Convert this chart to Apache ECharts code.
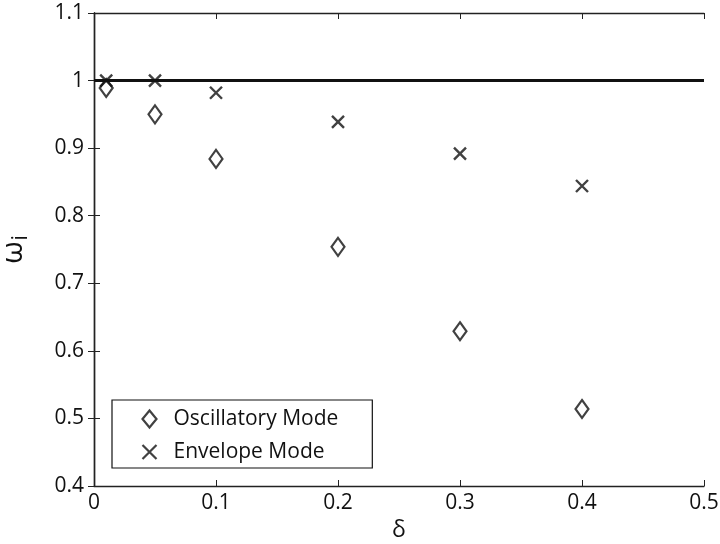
<!DOCTYPE html>
<html><head><meta charset="utf-8">
<script src="https://cdn.jsdelivr.net/npm/echarts@6/dist/echarts.min.js"></script>
<style>html,body{margin:0;padding:0;background:#fff}#c{width:720px;height:544px}</style>
</head><body><div id="c"></div>
<script>
const deltas = [0.01, 0.05, 0.1, 0.2, 0.3, 0.4];
const oscillatory = [0.989, 0.950, 0.884, 0.754, 0.629, 0.514];
const envelope = [1.0, 1.0, 0.982, 0.939, 0.892, 0.844];
const referenceLevel = 1;
const xTicks = [0, 0.1, 0.2, 0.3, 0.4, 0.5];
const yTicks = [0.4, 0.5, 0.6, 0.7, 0.8, 0.9, 1, 1.1];

const FONT = '"Open Sans", "DejaVu Sans", sans-serif';
const crossPath = 'path://M0 0L10 10M10 0L0 10';
const axisCommon = {
  axisLine: {show: true, lineStyle: {color: '#222', width: 1.4}},
  axisTick: {show: true, inside: true, length: 6, lineStyle: {color: '#222', width: 1}},
  splitLine: {show: false}
};
const fmt = v => String(Math.round(v * 10) / 10);
const chart = echarts.init(document.getElementById('c'), null, {renderer: 'canvas'});
chart.setOption({
  animation: false,
  backgroundColor: '#fff',
  grid: {left: 94, right: 16, top: 13, bottom: 58, containLabel: false, outerBoundsMode: 'none'},
  legend: {
    orient: 'vertical', left: 112, top: 400,
    backgroundColor: '#fff', borderColor: '#111', borderWidth: 1.2,
    padding: [8, 34, 5, 28], itemGap: 11, itemWidth: 14, itemHeight: 17,
    textStyle: {fontFamily: FONT, fontSize: 21, lineHeight: 22, color: '#111', padding: [0, 0, 0, 12]},
    data: [
      {name: 'Oscillatory Mode', icon: 'diamond', itemStyle: {color: '#fff', borderColor: '#111', borderWidth: 2.2}},
      {name: 'Envelope Mode', icon: crossPath, itemStyle: {color: 'none', borderColor: '#111', borderWidth: 2.2}}
    ]
  },
  xAxis: [
    Object.assign({type: 'value', min: xTicks[0], max: xTicks[xTicks.length - 1], interval: 0.1, position: 'bottom',
      name: 'δ', nameLocation: 'middle', nameGap: 27,
      nameTextStyle: {fontFamily: FONT, fontSize: 23, color: '#111'},
      axisLabel: {fontFamily: FONT, fontSize: 21, color: '#111', margin: 7, formatter: fmt}}, axisCommon),
    Object.assign({type: 'value', min: xTicks[0], max: xTicks[xTicks.length - 1], interval: 0.1, position: 'top',
      axisLabel: {show: false}}, axisCommon)
  ],
  yAxis: [
    Object.assign({type: 'value', min: yTicks[0], max: yTicks[yTicks.length - 1], interval: 0.1, position: 'left',
      name: 'ω{s|i}', nameLocation: 'middle', nameGap: 62, nameRotate: 90,
      nameTextStyle: {fontFamily: FONT, fontSize: 29, color: '#111',
        rich: {s: {fontFamily: FONT, fontSize: 21, color: '#111', verticalAlign: 'bottom', padding: [16, 0, 0, 1]}}},
      axisLabel: {fontFamily: FONT, fontSize: 21, color: '#111', margin: 10, formatter: fmt}}, axisCommon),
    Object.assign({type: 'value', min: yTicks[0], max: yTicks[yTicks.length - 1], interval: 0.1, position: 'right',
      axisLabel: {show: false}}, axisCommon)
  ],
  series: [
    {
      name: 'Oscillatory Mode', type: 'scatter', xAxisIndex: 0, yAxisIndex: 0,
      symbol: 'diamond', symbolSize: [13, 18],
      itemStyle: {color: '#fff', borderColor: '#111', borderWidth: 2.2},
      data: deltas.map((d, i) => [d, oscillatory[i]]),
      markLine: {
        silent: true, symbol: ['none', 'none'], label: {show: false},
        lineStyle: {color: '#111', width: 2.8, type: 'solid'},
        data: [{yAxis: referenceLevel}]
      },
      z: 3
    },
    {
      name: 'Envelope Mode', type: 'scatter', xAxisIndex: 0, yAxisIndex: 0,
      symbol: crossPath, symbolSize: 12,
      itemStyle: {color: 'none', borderColor: '#111', borderWidth: 2.4},
      data: deltas.map((d, i) => [d, envelope[i]]),
      z: 4
    }
  ]
});
</script></body></html>
